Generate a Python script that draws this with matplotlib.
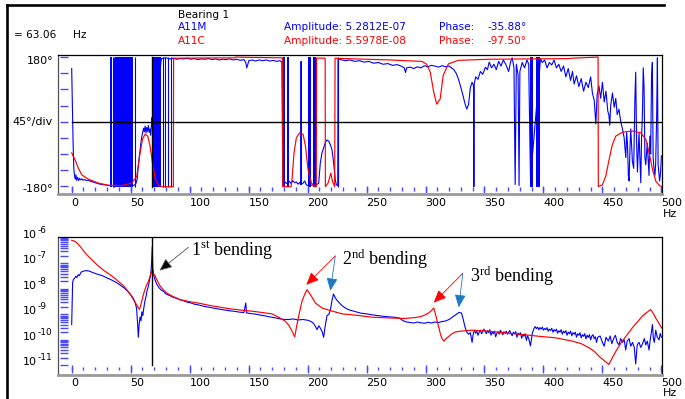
import matplotlib
matplotlib.use("Agg")
import matplotlib.pyplot as plt
from matplotlib.lines import Line2D
from matplotlib import transforms

# --- header values ---
cursor_hz = 68.5
cursor_label = "= 63.06"
title = "Bearing 1"
ch_names = ["A11M", "A11C"]
ch_amp = ["Amplitude: 5.2812E-07", "Amplitude: 5.5978E-08"]
ch_phase = ["-35.88°", "-97.50°"]

# --- phase (deg) vs Hz ---
red_phase = [
    (0, -87), (2.8, -106), (5.6, -129), (8.5, -148), (14.1, -160), (22.6, -171), (31, -177),
    (42.4, -178), (50.9, -171), (55.2, -152), (58, -87), (60, -49), (62.2, -35), (64.5, -40),
    (66.5, -68), (68.5, -115), (70.7, -157), (73.5, -176), (76.4, -181), (86.2, -181),
    (86.4, 177), (138.5, 178), (139, 180), (155, 179), (178.7, 178), (178.9, -181), (186, -181),
    (186.8, -162), (188.5, -87), (190.5, -45), (193.3, -31), (196.2, -35), (198.2, -68),
    (200.4, -134), (203.3, -171), (206.1, -181), (207.4, -181), (207.6, 177), (214.9, 177),
    (215.1, -181), (217.5, -170), (219.7, -143), (221.1, -166), (223.0, -181), (223.3, 177),
    (240, 175), (270, 172), (297, 168), (301, 160), (304, 138), (307, 82), (309.5, 49),
    (312.4, 63), (315, 129), (319.4, 161), (327.9, 171), (353.7, 174), (421.6, 175.8),
    (424.4, 177), (446.3, 180), (446.5, -181), (449.9, -176), (452.8, -152), (455.6, -106),
    (458.4, -64), (461.3, -40), (467, -29), (475.5, -26), (482.5, -31), (486.8, -49),
    (489.6, -87), (492.5, -134), (495.3, -166), (498.7, -179), (500, -180),
]

blue_phase = [
    (0.0, 148), (0.6, 40), (1.2, -60), (1.8, -130), (2.4, -150), (3.0, -160), (3.6, -148),
    (4.2, -163), (5.0, -155), (5.8, -164), (6.6, -158), (7.5, -162), (8.5, -159), (9.5, -163),
    (11, -161), (12.5, -164), (14, -163), (16, -166), (18, -168), (20, -170), (22, -172),
    (24, -174), (26, -175), (28, -176), (30, -177), (32.2, -178),
    (52, -178), (53.6, -176), (54.8, -170), (55.6, -158), (56.4, -125), (57.2, -100),
    (57.8, -85), (58.6, -62), (59.4, -42), (60.2, -30), (61.0, -18), (61.6, -28), (62.3, -12),
    (63.0, -32), (63.6, -16), (64.3, -27), (65.0, -10), (65.7, -30), (66.4, -20), (67.0, -38),
    (67.6, -8), (68.2, 12), (69, -60),
    (76, 176), (80, 178), (83, 175), (86, 177), (89, 174), (92, 176), (95, 175), (98, 177),
    (101, 174), (104, 176), (107, 173), (110, 175), (113, 174), (116, 176), (119, 173),
    (122, 175), (125, 172), (128, 174), (131, 173), (134, 175), (137, 172), (140, 174),
    (143, 171), (146, 173), (147.6, 165), (148.4, 150), (149.2, 158), (150.2, 170), (153, 172),
    (156, 169), (159, 172), (162, 170), (165, 172), (168, 169), (171, 171), (174, 168),
    (176.5, 170), (178.2, 166), (179, -175),
    (181, -168), (182, -172), (184.5, -166), (186, -172), (187.5, -164), (189, -170),
    (190.5, -168), (192, -174), (193.5, -169), (194.3, -175), (194.5, 168), (194.7, -174),
    (196, -172), (197.5, -165), (199, -176), (200.3, -178),
    (207.6, -175), (209.4, -172), (210.8, -115), (212.2, -87), (213.6, -73), (215, -59),
    (216.4, -51), (217.9, -54), (219.3, -64), (220.7, -78), (222.1, -115), (223.5, -162),
    (224.4, -176), (225.6, -178), (225.8, 174),
    (228, 173), (232, 170), (236, 172), (240, 168), (244, 170), (248, 166), (252, 168),
    (256, 163), (260, 165), (264, 160), (268, 162), (272, 157), (276, 159), (280, 154),
    (282, 150), (283, 137), (284, 150), (287, 152), (290, 148), (293, 153), (296, 150),
    (299, 156), (302, 153), (305, 157), (308, 155), (311, 152), (314, 156), (317, 153),
    (320, 155), (322, 150), (324, 145), (326, 135), (328, 118), (330, 95), (332, 70),
    (333.5, 50), (335, 35), (336.5, 48), (338, 95), (339.5, 110), (340.7, 100), (341, -181),
    (341.3, 105), (342.5, 125), (344.5, 118), (346.5, 140), (348.5, 132), (350.8, 152),
    (352.5, 145), (354, 166), (356, 150), (358, 160), (360, 145), (362, 168), (364, 155),
    (366, 172), (368, 160), (370.5, 140), (372, 165), (373.5, 178), (375, 150), (376, -175),
    (377, 160), (378.5, 130), (379.3, -178), (380, 140), (382, 165), (384, 150), (386, 172),
    (387.5, 160), (389, -160),
    (397.5, 175), (399, 165), (401, 172), (403, 150), (405, 165), (407, 158), (409, 172),
    (411, 150), (413, 160), (415, 140), (417, 155), (419, 125), (421, 148), (423, 115),
    (424.6, 140), (426, 105), (428, 128), (430, 98), (432, 120), (434, 85), (436, 110),
    (438, 95), (440, 125), (441.5, 80), (443, 60), (444.4, -6), (445.5, 75), (447, 100),
    (448.5, 65), (450, 110), (451.5, 55), (453, 85), (454.5, 30), (455.5, 18), (456.2, -10),
    (457, 45), (458.5, 80), (460, 40), (461.3, 65), (462.5, 20), (464, 35), (465.5, 0),
    (467, -20), (468.4, -45), (469.8, -100), (470.5, -30), (471.2, -60), (472, -150),
    (472.6, -165), (473.3, -80), (474, -20), (475.4, -110), (476.5, -130), (477.5, 60),
    (478.2, 138), (479, -60), (479.7, -140), (481, -30), (482.5, -170), (483.2, -40),
    (483.9, 20), (484.6, 150), (485.3, 95), (486, -100), (486.7, -120), (488, -60),
    (489.5, -150), (490.2, -40), (490.9, -90), (491.6, 120), (492.3, 165), (493, -100),
    (493.7, -130), (494.5, -150), (495.1, -120), (496, 20), (496.6, 178), (497.2, -120),
    (498.5, -165), (499.3, -140), (500, -95),
]

# solid wrap-around regions and single wrap lines of A11M phase (Hz)
blue_bands = [(32.2, 34.6), (36.8, 51.8), (69.0, 75.8), (179.2, 180.6), (182.4, 184.0),
              (200.6, 202.6), (204.4, 207.4), (389.0, 391.5), (393.5, 396.8)]
blue_spikes = [35.3, 36.1, 53.6, 77.5, 79.5, 82.0, 84.5, 225.5]

# --- amplitude (log10) vs Hz ---
red_mag = [
    (0, -6.09), (2.8, -6.13), (5, -6.22), (7.1, -6.33), (10, -6.5), (12.7, -6.65),
    (15.5, -6.78), (18.4, -6.91), (21, -7.03), (24, -7.15), (28, -7.3), (32.5, -7.44),
    (37, -7.6), (41, -7.76), (44, -7.88), (46.7, -8.03), (49.5, -8.2), (52.4, -8.42),
    (54.5, -8.58), (56.2, -8.72), (57.4, -8.8), (58.5, -8.65), (60.8, -8.22), (63, -7.9),
    (65.1, -7.7), (66.8, -7.45), (67.9, -7.28), (69.2, -7.38), (70.8, -7.5), (72.8, -7.7),
    (75, -7.89), (77.5, -8.03), (80.6, -8.16), (86, -8.3), (92, -8.42), (100, -8.5),
    (109, -8.57), (117, -8.65), (126, -8.72), (134, -8.78), (143, -8.83), (150, -8.86),
    (155.6, -8.89), (162, -8.93), (169.8, -8.98), (175, -9.1), (178, -9.18), (181, -9.27),
    (184, -9.42), (186.8, -9.66), (189.1, -9.88), (191, -9.4), (193, -8.95), (195.3, -8.48),
    (197.5, -8.22), (199.5, -8.03), (202.4, -8.22), (206.6, -8.55), (212.3, -8.75),
    (220.8, -8.87), (229.3, -8.98), (240.6, -9.03), (254.7, -9.11), (268.9, -9.14),
    (283, -9.16), (292, -9.12), (297.1, -9.07), (300.5, -9.0), (302.8, -8.94), (305, -8.85),
    (307, -8.75), (308.5, -9.0), (309.9, -9.27), (311.5, -9.55), (312.7, -9.79), (314, -9.95),
    (315.5, -10.05), (317.5, -9.95), (319.8, -9.86), (322.5, -9.76), (325.4, -9.69),
    (330, -9.66), (339.5, -9.62), (353.7, -9.66), (367.8, -9.73), (382, -9.79), (396, -9.86),
    (410.2, -9.92), (424.3, -10.05), (432, -10.15), (438.5, -10.31), (443, -10.45),
    (447, -10.64), (451, -10.8), (455.5, -10.97), (458.3, -10.71), (462, -10.4),
    (466.8, -10.05), (471, -9.8), (475.3, -9.53), (480, -9.28), (483.8, -9.07),
    (487.5, -8.93), (490.9, -8.81), (493, -8.95), (495.1, -9.14), (497.5, -9.32), (500.2, -9.53),
]

blue_mag = [
    (0, -9.4), (0.8, -7.75), (1.5, -7.62), (2.5, -7.58), (3.5, -7.5), (4.5, -7.55), (5.5, -7.44),
    (6.5, -7.48), (8, -7.34), (10, -7.3), (12.5, -7.28), (15, -7.3), (18, -7.36), (21, -7.41),
    (24, -7.45), (27, -7.5), (30, -7.57), (33, -7.63), (36, -7.7), (39, -7.78), (42, -7.88),
    (45, -7.98), (48, -8.12), (50, -8.22), (52, -8.35), (53.5, -8.5), (55, -8.75), (55.8, -9.3),
    (56.5, -9.9), (57.2, -9.4), (58, -9.1), (58.8, -9.25), (59.5, -8.9), (60.3, -9.05),
    (61, -8.8), (62, -8.5), (63, -8.3), (64, -8.05), (65, -7.9), (66, -7.65), (67, -7.45),
    (67.6, -7.1), (68.3, -6.35), (68.8, -7.2), (69.5, -7.45), (70.5, -7.62), (72, -7.8),
    (74, -7.95), (76, -8.05), (78, -8.1), (80, -8.2), (83, -8.26), (86, -8.33), (89, -8.37),
    (92, -8.43), (95, -8.47), (98, -8.52), (101, -8.55), (104, -8.6), (107, -8.62),
    (110, -8.66), (114, -8.7), (118, -8.73), (122, -8.77), (126, -8.8), (130, -8.83),
    (134, -8.86), (138, -8.88), (142, -8.91), (146, -8.93), (147.6, -8.55), (148.2, -8.94),
    (152, -8.97), (156, -8.99), (160, -9.03), (164, -9.06), (168, -9.1), (172, -9.13),
    (176, -9.17), (180, -9.2), (184, -9.2), (188, -9.18), (192, -9.22), (196, -9.2),
    (200, -9.23), (203, -9.28), (205, -9.35), (207, -9.5), (208, -9.6), (209.5, -9.45),
    (211, -9.55), (212.5, -9.7), (213.6, -9.9), (214.5, -9.6), (215.5, -9.3), (216.5, -9.05),
    (218, -9.0), (219.3, -8.85), (220.7, -8.45), (222, -8.2), (223.5, -8.35), (225, -8.45),
    (227, -8.55), (229, -8.65), (232, -8.75), (235, -8.82), (238, -8.86), (241, -8.9),
    (245, -8.95), (250, -8.98), (255, -9.02), (260, -9.05), (265, -9.08), (270, -9.1),
    (275, -9.12), (278, -9.15), (281, -9.25), (284, -9.3), (287, -9.32), (290, -9.34),
    (293, -9.3), (296, -9.33), (299, -9.35), (302, -9.31), (305, -9.34), (308, -9.3),
    (311, -9.32), (314, -9.28), (317, -9.26), (320, -9.2), (323, -9.1), (326, -9.0),
    (328.5, -8.92), (330.5, -8.95), (332, -9.2), (333.5, -9.5), (335, -9.7), (336.5, -9.78),
    (338, -9.72), (339.5, -10.1), (340.5, -9.75), (341.5, -9.62), (342.5, -9.74),
    (343.5, -9.66), (344.5, -9.82), (345.5, -9.7), (346.5, -9.62), (347.5, -9.76),
    (348.5, -9.68), (349.5, -9.58), (350.5, -9.66), (351.5, -9.76), (352.5, -9.64),
    (353.5, -9.72), (354.5, -9.6), (355.5, -9.82), (356.5, -9.7), (357.5, -9.76),
    (358.5, -9.66), (359.5, -9.88), (360.5, -9.74), (361.5, -9.68), (362.5, -9.78),
    (363.5, -9.62), (364.5, -9.72), (365.5, -9.8), (366.5, -9.68), (367.5, -9.74),
    (368.5, -9.66), (369.5, -9.78), (370.5, -9.7), (371.5, -9.64), (372.5, -9.76),
    (373.5, -9.84), (374.5, -9.7), (375.5, -9.76), (376.5, -9.68), (377.5, -9.9),
    (378.5, -9.74), (379.5, -9.8), (380.5, -9.72), (381.5, -9.94), (382.5, -9.8),
    (383.5, -9.86), (384.5, -9.76), (385.5, -10.02), (386.5, -9.84), (387.5, -9.95),
    (389, -10.24), (390.5, -9.75), (392, -9.55), (393, -9.48), (394, -9.56), (395, -9.5),
    (396, -9.6), (397, -9.52), (398, -9.58), (399, -9.5), (400, -9.62), (401, -9.55),
    (402, -9.6), (403, -9.52), (404, -9.66), (405, -9.58), (406, -9.63), (407, -9.55),
    (408, -9.7), (409, -9.6), (410, -9.66), (411, -9.58), (412, -9.74), (413, -9.64),
    (414, -9.7), (415, -9.6), (416, -9.78), (417, -9.66), (418, -9.72), (419, -9.64),
    (420, -9.82), (421, -9.7), (422, -9.76), (423, -9.66), (424, -9.84), (425, -9.72),
    (426, -9.78), (427, -9.7), (428, -9.9), (429, -9.76), (430, -9.82), (431, -9.72),
    (432, -9.92), (433, -9.8), (434, -9.86), (435, -9.76), (436, -9.96), (437, -9.82),
    (438, -9.9), (439, -9.8), (440, -10.0), (441, -9.85), (442, -9.8), (443, -9.95),
    (444, -9.88), (445, -10.1), (446, -9.9), (448, -9.85), (450, -10.1), (451.5, -10.25),
    (453, -9.9), (455, -10.05), (456.5, -9.85), (458, -10.15), (459.5, -9.95), (461, -9.82),
    (462.5, -10.1), (464, -10.2), (465.5, -9.95), (467, -10.1), (468.5, -10.0),
    (469.7, -10.4), (471, -10.05), (472.6, -9.95), (474, -10.25), (475.5, -10.1),
    (477, -10.3), (478.2, -10.95), (479.5, -10.2), (481, -10.1), (482.5, -10.3),
    (484, -10.15), (485.5, -9.95), (486.7, -10.2), (488, -10.05), (489.5, -10.4),
    (490.5, -10.0), (491.5, -9.7), (492.4, -9.4), (493.2, -9.95), (494, -10.1),
    (495.2, -9.62), (496.5, -9.9), (498, -10.0), (499, -9.75), (500, -9.9),
]

# --- annotations: (text, text pos, arrow start, arrow tips) in (Hz, log10) ---
notes = [
    ("1", "st", (101.0, -6.667), (99.0, -6.365), [((74.4, -7.28), "black", "#555555")]),
    ("2", "nd", (229.2, -7.06), (223.5, -6.706),
     [((198.9, -7.84), "#ff0000", "#ff0000"), ((219.3, -8.07), "#1e78c8", "#1e78c8")]),
    ("3", "rd", (337.5, -7.71), (331.6, -7.385),
     [((307.0, -8.54), "#ff0000", "#ff0000"), ((328.2, -8.72), "#1e78c8", "#1e78c8")]),
]

x_labels = [0, 50, 100, 150, 200, 250, 300, 350, 400, 450, 500]
phase_ticks = [-180, -135, -90, -45, 0, 45, 90, 135, 180]
decades = [-6, -7, -8, -9, -10, -11]

BLUE = "#0000ff"
RED = "#ff0000"
TICKBLUE = "#4a4aff"
W, H = 685, 399

fig = plt.figure(figsize=(6.85, 3.99), dpi=100)
ax1 = fig.add_axes([58 / W, 1 - 193.5 / H, 604 / W, 138.2 / H])
ax2 = fig.add_axes([58 / W, 1 - 374.7 / H, 604 / W, 137.7 / H])

for ax in (ax1, ax2):
    ax.set_xlim(-11.6, 500.5)
    ax.set_yticks([])
    ax.set_xticks(x_labels)
    ax.set_xticklabels([str(v) for v in x_labels], ha="left", fontsize=8)
    ax.tick_params(axis="x", length=0)
    ax.tick_params(axis="y", which="both", length=0, labelleft=False)
    ax.spines["top"].set_color("black")
    ax.spines["right"].set_color("black")
    ax.spines["left"].set_color("#505050")
    ax.spines["bottom"].set_color("#9a9a9a")
    ax.spines["bottom"].set_linewidth(2)
    for s in ("top", "right", "left"):
        ax.spines[s].set_linewidth(0.9)
ax1.tick_params(axis="x", pad=3.2)
ax2.tick_params(axis="x", pad=2.2)

# --- top: phase ---
ax1.set_ylim(-200, 185)
for lo, hi in blue_bands:
    ax1.fill_between([lo, hi], -181, 180, color=BLUE, lw=0)
ax1.vlines(blue_spikes, -181, 180, color=BLUE, lw=0.8)
ax1.plot([p[0] for p in blue_phase], [p[1] for p in blue_phase], color=BLUE, lw=0.8)
ax1.plot([p[0] for p in red_phase], [p[1] for p in red_phase], color=RED, lw=0.85)
ax1.plot([0, 500], [0, 0], color="black", lw=1.0)
ax1.plot([cursor_hz, cursor_hz], [-181, 180], color="black", lw=1.0)
ax1.hlines(phase_ticks, -10, -3.1, color=TICKBLUE, lw=1)
ax1.vlines(range(0, 501, 10), -192, -181, color=TICKBLUE, lw=1)
ax1.vlines(range(0, 501, 50), -199, -179, color=TICKBLUE, lw=1)

ytr = ax1.get_yaxis_transform()
for val, lab, dy in [(180, "180°", -4), (0, "45°/div", 0), (-180, "-180°", -3)]:
    ax1.text(-0.008, val, lab, transform=transforms.offset_copy(ytr, fig, y=dy, units="dots"),
             ha="right", va="center", fontsize=8, clip_on=False)

# --- bottom: amplitude ---
ax2.set_yscale("log")
ax2.set_ylim(10 ** -11.37, 10 ** -5.96)
ax2.tick_params(axis="y", which="both", length=0, labelleft=False)
ax2.plot([p[0] for p in blue_mag], [10 ** p[1] for p in blue_mag], color=BLUE, lw=0.8)
ax2.plot([p[0] for p in red_mag], [10 ** p[1] for p in red_mag], color=RED, lw=0.85)
ax2.plot([cursor_hz, cursor_hz], [1e-11, 1e-6], color="black", lw=1.0)
log_ticks = [m * 10.0 ** e for e in range(-11, -6) for m in range(1, 10)] + [1e-6]
ax2.hlines(log_ticks, -10, -3.1, color=TICKBLUE, lw=1)
ax2.vlines(range(0, 501, 10), 10 ** -11.2, 10 ** -11.07, color=TICKBLUE, lw=1)
ax2.vlines(range(0, 501, 50), 10 ** -11.3, 10 ** -11.0, color=TICKBLUE, lw=1)

btr = transforms.blended_transform_factory(fig.transFigure, ax2.transData)
for e in decades:
    ax2.text(23 / W, 10.0 ** e, "10", transform=btr, ha="left", va="baseline",
             fontsize=8, clip_on=False)
    ax2.text(38 / W, 10.0 ** e, str(e),
             transform=transforms.offset_copy(btr, fig, y=5, units="dots"),
             ha="left", va="baseline", fontsize=6.5, clip_on=False)

for base, sup, tpos, start, tips in notes:
    ax2.text(tpos[0], 10 ** tpos[1], r"$\mathregular{" + base + "^{" + sup + "}}$ bending",
             fontfamily="Liberation Serif", fontsize=13, ha="left", va="baseline")
    for tip, head_col, line_col in tips:
        ax2.annotate("", xy=(tip[0], 10 ** tip[1]), xytext=(start[0], 10 ** start[1]),
                     arrowprops=dict(arrowstyle="-|>,head_length=0.55,head_width=0.24",
                                     mutation_scale=14, color=head_col, ec=line_col,
                                     lw=0.6, shrinkA=0, shrinkB=0))

# --- header and frame ---
fig.text(178 / W, 1 - 15 / H, title, fontsize=7.6, va="center")
for i, col in enumerate([BLUE, RED]):
    y = 1 - (27.5 + 13.3 * i) / H
    fig.text(178 / W, y, ch_names[i], color=col, fontsize=7.6, va="center")
    fig.text(284 / W, y, ch_amp[i], color=col, fontsize=7.6, va="center")
    fig.text(439 / W, y, "Phase:", color=col, fontsize=7.6, va="center")
    fig.text(487 / W, y, ch_phase[i], color=col, fontsize=7.6, va="center")
fig.text(14 / W, 1 - 35 / H, cursor_label, fontsize=7.6, va="center")
fig.text(73 / W, 1 - 35 / H, "Hz", fontsize=7.6, va="center")
fig.text(663 / W, 1 - 214 / H, "Hz", fontsize=8, va="center")
fig.text(663 / W, 1 - 393.5 / H, "Hz", fontsize=8, va="center")

fig.add_artist(Line2D([7 / W, 664 / W], [1 - 5 / H, 1 - 5 / H], color="black", lw=1.9))
fig.add_artist(Line2D([7 / W, 7 / W], [1 - 5 / H, 0], color="black", lw=1.9))

fig.savefig("out.png", dpi=100)
